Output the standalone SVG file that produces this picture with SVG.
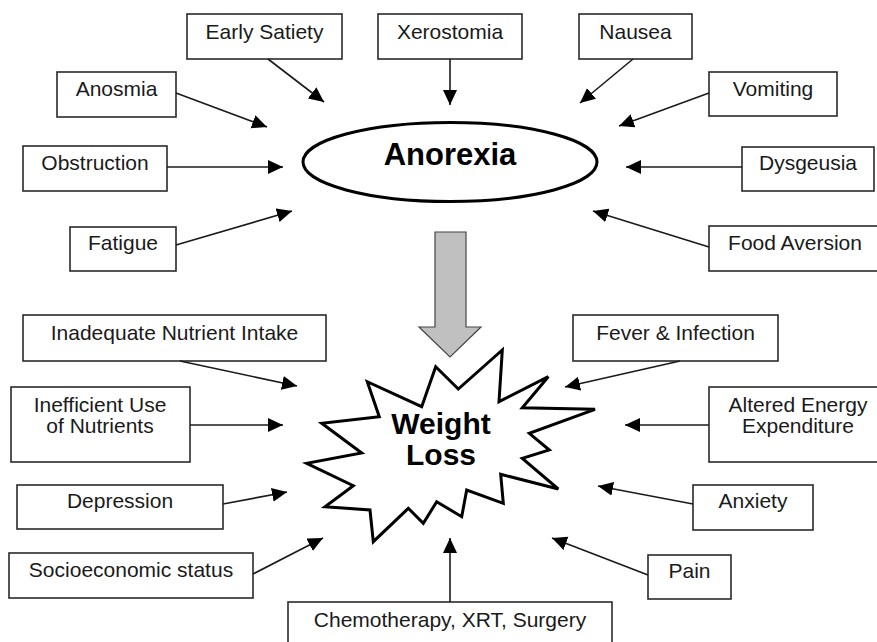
<svg xmlns="http://www.w3.org/2000/svg" width="877" height="642" viewBox="0 0 877 642">
<defs>
<style>
.box rect{fill:#fff;stroke:#2a2a2a;stroke-width:1.6}
.box text{font-family:"Liberation Sans",Arial,sans-serif;font-size:21px;fill:#1a1a1a;text-anchor:middle}
.big{font-family:"Liberation Sans",Arial,sans-serif;font-weight:bold;font-size:30px;fill:#000;text-anchor:middle}
#connectors line{stroke:#1a1a1a;stroke-width:1.6;marker-end:url(#ah)}
</style>
<marker id="ah" markerUnits="userSpaceOnUse" markerWidth="16" markerHeight="15" refX="15" refY="7" orient="auto">
<path d="M0,0 L15,7 L0,14 z" fill="#000"/>
</marker>
</defs>
<rect width="877" height="642" fill="#fff"/>

<g id="anorexia">
<ellipse cx="450" cy="162" rx="147" ry="39.5" fill="#fff" stroke="#000" stroke-width="3"/>
<text class="big" x="450" y="165" style="font-size:31px">Anorexia</text>
</g>

<g id="bigarrow">
<path d="M435,232 L466,232 L466,327 L481,327 L450,357 L419,327 L435,327 Z" fill="#c0c0c0" stroke="#444" stroke-width="1.2"/>
</g>

<g id="weightloss">
<polygon points="435.7,366.7 458.3,389 502.3,350 499,401.7 548.3,376.7 522.3,407.7 595,409.3 529.3,433.3 549.3,450 522.3,458.3 558.3,489 500.7,474.3 503.3,503.3 466.7,490 461.7,516.7 436.7,501.7 423.3,523.3 408.3,508.3 373.3,541.7 370,510 325,506.7 353.3,485.7 306.7,463.3 361.7,453 321.7,423.3 379.3,416.7 367.3,381.7 421.7,406.7" fill="#fff" stroke="#000" stroke-width="3" stroke-linejoin="miter"/>
<text class="big" x="441" y="434">Weight</text>
<text class="big" x="441" y="465">Loss</text>
</g>

<g id="early-satiety" class="box"><rect x="187" y="14" width="155" height="45"/><text x="264.5" y="39">Early Satiety</text></g>
<g id="xerostomia" class="box"><rect x="378" y="14" width="144" height="45"/><text x="450" y="39">Xerostomia</text></g>
<g id="nausea" class="box"><rect x="579" y="14" width="113" height="45"/><text x="635.5" y="39">Nausea</text></g>
<g id="anosmia" class="box"><rect x="57" y="72" width="119" height="45"/><text x="116.5" y="96">Anosmia</text></g>
<g id="vomiting" class="box"><rect x="709" y="72" width="128" height="44"/><text x="773" y="96">Vomiting</text></g>
<g id="obstruction" class="box"><rect x="23" y="146" width="144" height="45"/><text x="95" y="170">Obstruction</text></g>
<g id="dysgeusia" class="box"><rect x="742" y="147" width="132" height="44"/><text x="808" y="170">Dysgeusia</text></g>
<g id="fatigue" class="box"><rect x="70" y="227" width="106" height="44"/><text x="123" y="250">Fatigue</text></g>
<g id="food-aversion" class="box"><rect x="709" y="226" width="175" height="45"/><text x="795" y="250">Food Aversion</text></g>

<g id="inadequate" class="box"><rect x="23" y="315" width="303" height="46"/><text x="174.5" y="340">Inadequate Nutrient Intake</text></g>
<g id="fever" class="box"><rect x="573" y="315" width="205" height="46"/><text x="675.5" y="340">Fever &amp; Infection</text></g>
<g id="inefficient" class="box"><rect x="11" y="387" width="179" height="75"/><text x="100" y="412">Inefficient Use</text><text x="100" y="433">of Nutrients</text></g>
<g id="altered" class="box"><rect x="709" y="387" width="175" height="75"/><text x="798" y="412">Altered Energy</text><text x="798" y="433">Expenditure</text></g>
<g id="depression" class="box"><rect x="17" y="485" width="206" height="44"/><text x="120" y="508">Depression</text></g>
<g id="anxiety" class="box"><rect x="693" y="485" width="120" height="45"/><text x="753" y="508">Anxiety</text></g>
<g id="socioeconomic" class="box"><rect x="9" y="553" width="244" height="45"/><text x="131" y="577">Socioeconomic status</text></g>
<g id="pain" class="box"><rect x="648" y="555" width="83" height="44"/><text x="689.5" y="578">Pain</text></g>
<g id="chemo" class="box"><rect x="288" y="602" width="324" height="50"/><text x="450" y="627">Chemotherapy, XRT, Surgery</text></g>

<g id="connectors">
<line x1="268" y1="59" x2="324" y2="102"/>
<line x1="450" y1="59" x2="450" y2="105"/>
<line x1="633" y1="59" x2="580" y2="103"/>
<line x1="176" y1="93" x2="267" y2="127"/>
<line x1="709" y1="93" x2="619" y2="126"/>
<line x1="167" y1="167" x2="283" y2="167"/>
<line x1="742" y1="167" x2="626" y2="167"/>
<line x1="176" y1="245" x2="292" y2="211"/>
<line x1="709" y1="247" x2="593" y2="211"/>
<line x1="180" y1="361" x2="297" y2="386"/>
<line x1="680" y1="361" x2="565" y2="387"/>
<line x1="190" y1="425" x2="283" y2="425"/>
<line x1="709" y1="425" x2="625" y2="425"/>
<line x1="223" y1="504" x2="287" y2="492"/>
<line x1="693" y1="504" x2="598" y2="486"/>
<line x1="253" y1="574" x2="323" y2="538"/>
<line x1="648" y1="575" x2="552" y2="538"/>
<line x1="450" y1="602" x2="450" y2="538"/>
</g>
</svg>
